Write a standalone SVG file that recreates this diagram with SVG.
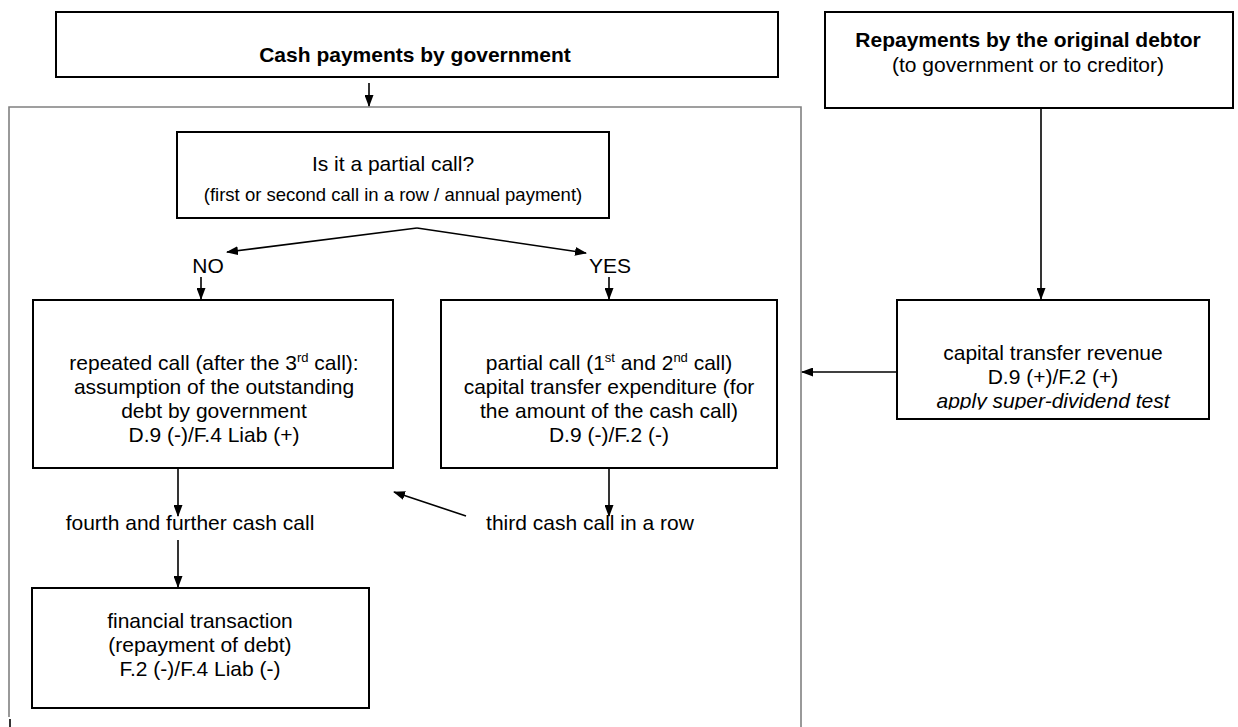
<svg xmlns="http://www.w3.org/2000/svg" width="1238" height="727" viewBox="0 0 1238 727">
<style>
text{font-family:"Liberation Sans",Arial,sans-serif;font-size:21px;fill:#000;text-anchor:middle}
.b{font-weight:bold}
.sm{font-size:18.5px}
.sup{font-size:13px}
.box{fill:#fff;stroke:#000;stroke-width:2}
.ln{fill:none;stroke:#000;stroke-width:1.6}
.frame{fill:none;stroke:#808080;stroke-width:1.6}
</style>
<defs>
<marker id="ah" markerWidth="12" markerHeight="9" refX="11" refY="4.5" orient="auto" markerUnits="userSpaceOnUse">
<path d="M0,0 L12,4.5 L0,9 z" fill="#000"/>
</marker>
<clipPath id="clipCap"><rect x="897" y="300" width="312" height="109.5"/></clipPath>
</defs>
<rect width="1238" height="727" fill="#fff"/>

<g id="frame">
<path class="frame" d="M9,717 V107 H801 V727"/>
<line x1="10" y1="719" x2="10" y2="727" stroke="#000" stroke-width="1.6"/>
</g>

<g id="connectors">
<line class="ln" x1="369" y1="83" x2="369" y2="106" marker-end="url(#ah)"/>
<line class="ln" x1="417" y1="228" x2="227" y2="252" marker-end="url(#ah)"/>
<line class="ln" x1="417" y1="228" x2="586" y2="253" marker-end="url(#ah)"/>
<line class="ln" x1="201" y1="277" x2="201" y2="299" marker-end="url(#ah)"/>
<line class="ln" x1="609" y1="277" x2="609" y2="299" marker-end="url(#ah)"/>
<line class="ln" x1="1041" y1="108" x2="1041" y2="299" marker-end="url(#ah)"/>
<line class="ln" x1="897" y1="372" x2="802" y2="372" marker-end="url(#ah)"/>
<line class="ln" x1="178" y1="468" x2="178" y2="516" marker-end="url(#ah)"/>
<line class="ln" x1="178" y1="540" x2="178" y2="587" marker-end="url(#ah)"/>
<line class="ln" x1="609" y1="468" x2="609" y2="516" marker-end="url(#ah)"/>
<line class="ln" x1="466" y1="516" x2="394" y2="492" marker-end="url(#ah)"/>
</g>

<g id="cash">
<rect class="box" x="56" y="12" width="722" height="65"/>
<text class="b" x="415" y="62">Cash payments by government</text>
</g>

<g id="repay">
<rect class="box" x="825" y="12" width="408" height="96"/>
<text class="b" x="1028" y="47">Repayments by the original debtor</text>
<text x="1028" y="72">(to government or to creditor)</text>
</g>

<g id="question">
<rect class="box" x="177" y="132" width="432" height="86"/>
<text x="393" y="171">Is it a partial call?</text>
<text class="sm" x="393" y="201">(first or second call in a row / annual payment)</text>
</g>

<g id="labels">
<text x="208" y="273">NO</text>
<text x="610" y="273">YES</text>
<text x="190" y="530">fourth and further cash call</text>
<text x="590" y="530">third cash call in a row</text>
</g>

<g id="repeated">
<rect class="box" x="33" y="300" width="360" height="168"/>
<text x="214" y="370">repeated call (after the 3<tspan class="sup" dy="-8">rd</tspan><tspan dy="8"> call):</tspan></text>
<text x="214" y="394">assumption of the outstanding</text>
<text x="214" y="418">debt by government</text>
<text x="214" y="442">D.9 (-)/F.4 Liab (+)</text>
</g>

<g id="partial">
<rect class="box" x="441" y="300" width="336" height="168"/>
<text x="609" y="370">partial call (1<tspan class="sup" dy="-8">st</tspan><tspan dy="8"> and 2</tspan><tspan class="sup" dy="-8">nd</tspan><tspan dy="8"> call)</tspan></text>
<text x="609" y="394">capital transfer expenditure (for</text>
<text x="609" y="418">the amount of the cash call)</text>
<text x="609" y="442">D.9 (-)/F.2 (-)</text>
</g>

<g id="capital">
<rect class="box" x="897" y="300" width="312" height="119"/>
<text x="1053" y="360">capital transfer revenue</text>
<text x="1053" y="384">D.9 (+)/F.2 (+)</text>
<text x="1053" y="408" font-style="italic" clip-path="url(#clipCap)">apply super-dividend test</text>
</g>

<g id="financial">
<rect class="box" x="32" y="588" width="337" height="120"/>
<text x="200" y="628">financial transaction</text>
<text x="200" y="652">(repayment of debt)</text>
<text x="200" y="676">F.2 (-)/F.4 Liab (-)</text>
</g>
</svg>
